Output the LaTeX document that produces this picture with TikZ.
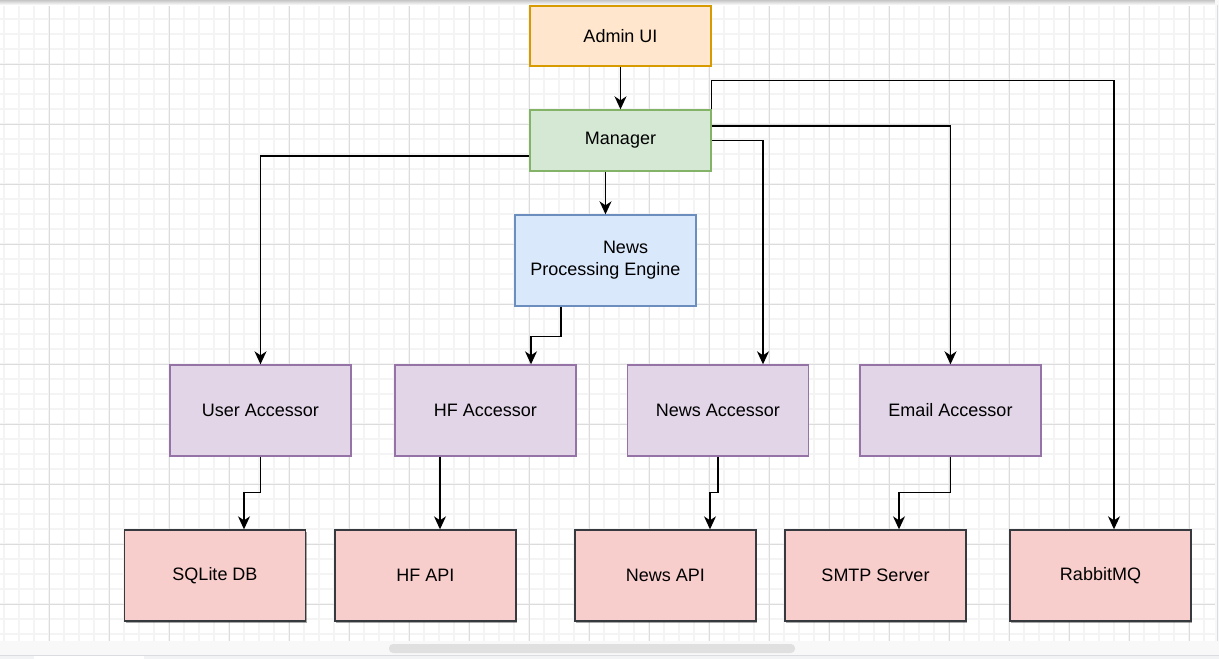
\documentclass[tikz,border=0pt]{standalone}
\usepackage{fontspec}
\setmainfont{Liberation Sans}
\usetikzlibrary{arrows.meta,shadows}

\definecolor{adminfill}{HTML}{FFE6CC}
\definecolor{admindraw}{HTML}{D79B00}
\definecolor{mgrfill}{HTML}{D5E8D4}
\definecolor{mgrdraw}{HTML}{82B366}
\definecolor{engfill}{HTML}{DAE8FC}
\definecolor{engdraw}{HTML}{6C8EBF}
\definecolor{accfill}{HTML}{E1D5E7}
\definecolor{accdraw}{HTML}{9673A6}
\definecolor{extfill}{HTML}{F8CECC}
\definecolor{extdraw}{HTML}{36393D}
\definecolor{gridminor}{HTML}{F4F4F4}
\definecolor{gridmajor}{HTML}{DCDCDC}
\definecolor{barfill}{HTML}{F8F8F8}
\definecolor{thumbfill}{HTML}{E0E0E0}
\definecolor{tabfill}{HTML}{F1F3F4}
\definecolor{tabline}{HTML}{DADCE0}

\begin{document}
\begin{tikzpicture}[x=1pt,y=-1pt,
  >={Stealth[length=13pt,width=12pt,inset=4pt]},
  box/.style={rectangle,draw,line width=1.4pt,minimum width=181pt,inner sep=2pt,
    font=\fontsize{18}{22}\selectfont,align=center},
  adminbox/.style={box,fill=adminfill,draw=admindraw,minimum height=60pt},
  mgrbox/.style={box,fill=mgrfill,draw=mgrdraw,minimum height=61pt},
  engbox/.style={box,fill=engfill,draw=engdraw,minimum height=91pt},
  accbox/.style={box,fill=accfill,draw=accdraw,minimum height=91pt},
  extbox/.style={box,fill=extfill,draw=extdraw,minimum height=91pt,
    drop shadow={shadow xshift=1pt,shadow yshift=-1.5pt,opacity=0.35,fill=black}},
  flow/.style={->,line width=1.5pt,black}]
  \useasboundingbox (0,0) rectangle (1219,659);
  % canvas and grid
  \fill[white] (0,0) rectangle (1219,659);
  \foreach \gx in {4,19,...,1214} \draw[gridminor,line width=1.2pt] (\gx,5) -- (\gx,641);
  \foreach \gy in {4,19,...,640} \draw[gridminor,line width=1.2pt] (0,\gy) -- (1215,\gy);
  \foreach \gx in {49,109,...,1214} \draw[gridmajor,line width=0.9pt] (\gx,5) -- (\gx,641);
  \foreach \gy in {4,64,...,640} \draw[gridmajor,line width=0.9pt] (0,\gy) -- (1215,\gy);
  \shade[top color=gray!45,bottom color=white] (0,0) rectangle (1219,5);
  \fill[barfill] (1215,0) rectangle (1219,641);
  \draw[tabline,line width=0.8pt] (1217,5) -- (1217,641);
  \fill[barfill] (0,641) rectangle (1219,655);
  \fill[thumbfill,rounded corners=4pt] (389,644) rectangle (795,653);
  \fill[tabfill] (0,655) rectangle (1219,659);
  \draw[tabline,line width=0.8pt] (0,655) -- (1219,655);
  \fill[white] (34,656) rectangle (144,659);

  % nodes
  \node[adminbox] (admin) at (620.5,36) {Admin UI};
  \node[mgrbox] (mgr) at (620.5,140.5) {Manager};
  \node[engbox] (engine) at (605.5,260.5) {\hspace*{40pt}News\\Processing Engine};
  \node[accbox] (useracc) at (260.5,410.5) {User Accessor};
  \node[accbox] (hfacc) at (485.5,410.5) {HF Accessor};
  \node[accbox] (newsacc) at (718,410.5) {News Accessor};
  \node[accbox] (emailacc) at (950.5,410.5) {Email Accessor};
  \node[extbox] (sqlite) at (215,575.5) {SQLite DB};
  \node[extbox] (hfapi) at (425.5,575.5) {HF API};
  \node[extbox] (newsapi) at (665.5,575.5) {News API};
  \node[extbox] (smtp) at (875.5,575.5) {SMTP Server};
  \node[extbox] (rabbit) at (1100.5,575.5) {RabbitMQ};

  % connectors
  \draw[flow] (admin.south) -- (mgr.north);
  \draw[flow] (mgr.south -| engine.north) -- (engine.north);
  \draw[flow] ([yshift=-15.5pt]mgr.west) -| (useracc.north);
  \draw[flow] ([xshift=-44.5pt]engine.south) -- ++(0,30) -| ([xshift=45.5pt]hfacc.north);
  \draw[flow] (mgr.east) -| ([xshift=45pt]newsacc.north);
  \draw[flow] ([yshift=14.5pt]mgr.east) -| (emailacc.north);
  \draw[flow] (mgr.north east) -- ++(0,-29) -| ([xshift=13.5pt]rabbit.north);
  \draw[flow] (useracc.south) -- ++(0,36) -| ([xshift=29pt]sqlite.north);
  \draw[flow] ([xshift=-45.5pt]hfacc.south) -- ([xshift=14.5pt]hfapi.north);
  \draw[flow] (newsacc.south) -- ++(0,36) -| ([xshift=44.5pt]newsapi.north);
  \draw[flow] (emailacc.south) -- ++(0,36) -| ([xshift=23.5pt]smtp.north);
\end{tikzpicture}
\end{document}
